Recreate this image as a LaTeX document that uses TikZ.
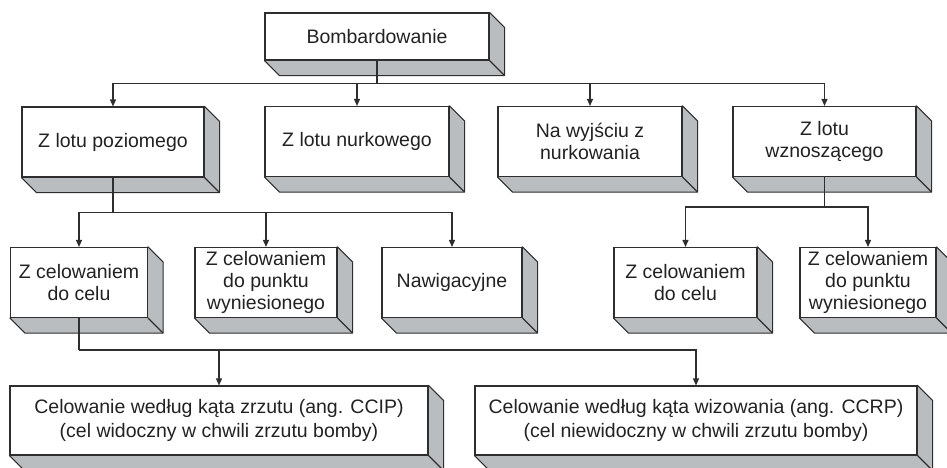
\documentclass[tikz,border=0pt]{standalone}
\usepackage{fontspec}
\setmainfont{Liberation Sans}
\usetikzlibrary{arrows.meta,backgrounds}
\definecolor{ramka}{HTML}{2E2E2E}
\definecolor{bok}{HTML}{B9BDC0}
\definecolor{tekst}{HTML}{222222}

\begin{document}
\begin{tikzpicture}[x=1pt, y=-1pt,
  blok/.style={draw=ramka, line width=1.1pt, fill=white, align=center, text=tekst,
               font=\fontsize{19.5}{22}\selectfont, inner sep=0pt, minimum height=70pt},
  ln/.style ={draw=ramka, line width=1.2pt},
  ar/.style ={ln, -{Triangle[length=7pt,width=6pt]}}
]
\useasboundingbox (0,0) rectangle (947,467);
\node[blok, minimum width=224pt, minimum height=47pt] (bomb) at (377,36.5) {Bombardowanie};
\node[blok, minimum width=182pt] (poz)  at (113,142)   {Z lotu poziomego};
\node[blok, minimum width=184pt] (nurk) at (357,141.5) {Z lotu nurkowego};
\node[blok, minimum width=184pt] (wyj)  at (590,141.5) {Na wyjściu z\\nurkowania};
\node[blok, minimum width=183pt] (wzn)  at (824.5,141.5) {Z lotu\\wznoszącego};
\node[blok, minimum width=137pt] (cel1) at (79,282.5)  {Z celowaniem\\do celu};
\node[blok, minimum width=142pt] (pkt1) at (266,282.5) {Z celowaniem\\do punktu\\wyniesionego};
\node[blok, minimum width=140pt] (naw)  at (452,282.5) {Nawigacyjne};
\node[blok, minimum width=143pt] (cel2) at (685.5,282.5) {Z celowaniem\\do celu};
\node[blok, minimum width=136pt] (pkt2) at (868,282.5) {Z celowaniem\\do punktu\\wyniesionego};
\node[blok, minimum width=418pt, minimum height=69pt, font=\fontsize{19.5}{24}\selectfont] (ccip) at (219,420.5)
  {Celowanie według kąta zrzutu (ang. CCIP)\\(cel widoczny w chwili zrzutu bomby)};
\node[blok, minimum width=442pt, minimum height=69pt, font=\fontsize{19.5}{24}\selectfont] (ccrp) at (696,420.5)
  {Celowanie według kąta wizowania (ang. CCRP)\\(cel niewidoczny w chwili zrzutu bomby)};

\begin{scope}[on background layer]
\foreach \n in {bomb,poz,nurk,wyj,wzn,cel1,pkt1,naw,cel2,pkt2,ccip,ccrp}{
  \filldraw[fill=bok, draw=ramka, line width=1.1pt, line join=round]
    (\n.north east) -- ([shift={(15,15)}]\n.north east) -- ([shift={(15,15)}]\n.south east)
    -- ([shift={(15,15)}]\n.south west) -- (\n.south west) -- cycle;
  \draw[ramka, line width=1.1pt] (\n.south east) -- ([shift={(15,15)}]\n.south east);
}
\end{scope}

\draw[ln] (bomb.south) -- ++(0,23) coordinate (r1);
\foreach \n in {poz,nurk,wyj,wzn} \draw[ar] (r1) -| (\n.north);
\draw[ln] (poz.south) -- ++(0,35) coordinate (r2);
\foreach \n in {cel1,pkt1,naw} \draw[ar] (r2) -| (\n.north);
\draw[ln] (wzn.south) -- ++(0,30) coordinate (r3);
\foreach \n in {cel2,pkt2} \draw[ar] (r3) -| (\n.north);
\draw[ln] (cel1.south) -- ++(0,32) coordinate (r4);
\foreach \n in {ccip,ccrp} \draw[ar] (r4) -| (\n.north);
\end{tikzpicture}
\end{document}
